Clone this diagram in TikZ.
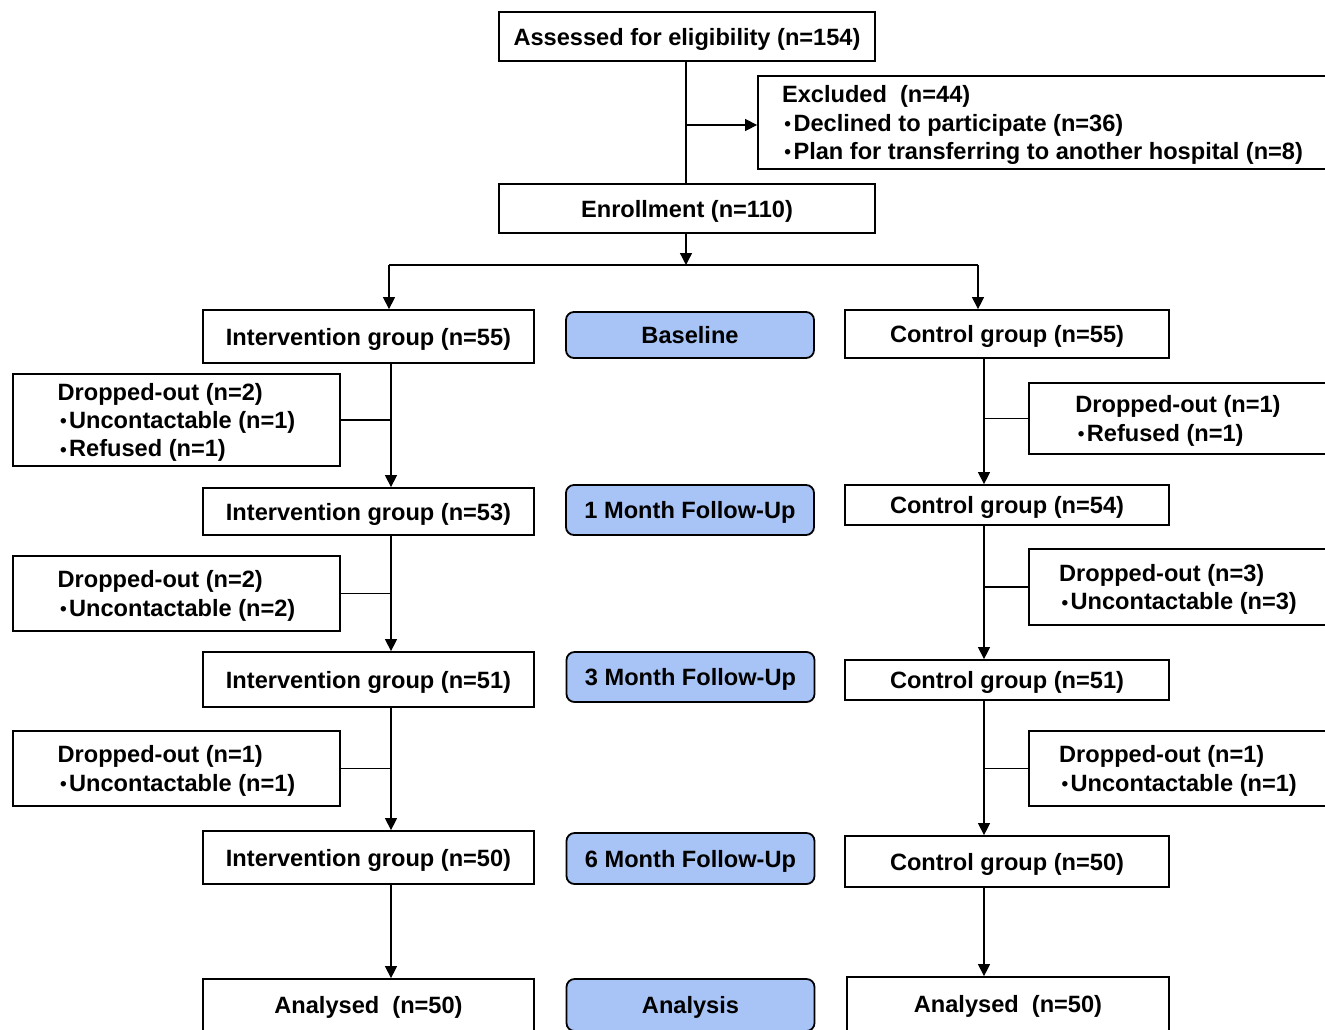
\documentclass[tikz,border=0pt]{standalone}
\usepackage{fontspec}
\setmainfont{Liberation Sans}
\usetikzlibrary{arrows.meta,positioning}
\definecolor{stageblue}{RGB}{168,196,246}
\newcommand{\itm}{\hspace{1.2pt}{\fontsize{9.5}{9.5}\selectfont\raisebox{0.3pt}{•}}\hspace{1.2pt}}
\tikzset{
    %Define standard arrow tip
    >={Triangle[length=6pt,width=6pt]},
    % Define box styles
    box/.style={
           draw,
           line width=0.9pt,
           align=left,
           inner sep=0pt,
           text depth=0pt,
           font=\fontsize{11.8}{14.2}\selectfont\bfseries},
    stage/.style={
           box,
           fill=stageblue,
           rounded corners=4pt},
    % Define connector style
    pil/.style={
           ->,
           line width=0.65pt},
    lin/.style={
           line width=0.65pt}
}

\begin{document}
\begin{tikzpicture}[x=0.5pt,y=-0.5pt]
\useasboundingbox (0,0) rectangle (1325,1029);
\clip (0,0) rectangle (1325,1029);

% top part
\node[box, minimum width=188pt, minimum height=24.5pt] (assess) at (687,36.5) {Assessed for eligibility (n=154)};
\node[box, minimum width=284.5pt, minimum height=46.5pt] (excl) at (1042.5,122.5) {Excluded\ \ (n=44)\\\itm Declined to participate (n=36)\\\itm Plan for transferring to another hospital (n=8)};
\node[box, minimum width=188pt, minimum height=24.5pt] (enroll) at (687,208.5) {Enrollment (n=110)};

\coordinate (split) at (686,125);
\coordinate (fork) at (686,265);
\coordinate (forkL) at (389,265);
\coordinate (forkR) at (978,265);

\draw[lin] (assess.south -| split) -- (enroll.north -| split);
\draw[pil] (split) -- (excl.west |- split);
\draw[pil] (enroll.south -| fork) -- (fork);
\draw[lin] (forkL) -- (forkR);

% stages
\node[stage, minimum width=124pt, minimum height=23pt] (base) at (690,335) {Baseline};
\node[stage, minimum width=124pt, minimum height=25pt] (m1) at (690,510) {1 Month Follow-Up};
\node[stage, minimum width=124pt, minimum height=25pt] (m3) at (690.5,677) {3 Month Follow-Up};
\node[stage, minimum width=124pt, minimum height=25.5pt] (m6) at (690.5,858.5) {6 Month Follow-Up};
\node[stage, minimum width=124pt, minimum height=26pt] (anal) at (690.5,1005) {Analysis};

% intervention arm
\node[box, minimum width=165.5pt, minimum height=26.5pt] (int55) at (368.5,336.5) {Intervention group (n=55)};
\node[box, minimum width=165.5pt, minimum height=23.5pt] (int53) at (368.5,511.5) {Intervention group (n=53)};
\node[box, minimum width=165.5pt, minimum height=27.5pt] (int51) at (368.5,679.5) {Intervention group (n=51)};
\node[box, minimum width=165.5pt, minimum height=26.5pt] (int50) at (368.5,857.5) {Intervention group (n=50)};
\node[box, minimum width=165.5pt, minimum height=26pt] (anL) at (368.5,1005) {Analysed\ \ (n=50)};

\node[box, minimum width=163.5pt, minimum height=46pt] (dropL1) at (176.5,420) {Dropped-out (n=2)\\\itm Uncontactable (n=1)\\\itm Refused (n=1)};
\node[box, minimum width=163.5pt, minimum height=37.5pt] (dropL2) at (176.5,593.5) {Dropped-out (n=2)\\\itm Uncontactable (n=2)};
\node[box, minimum width=163.5pt, minimum height=37.5pt] (dropL3) at (176.5,768.5) {Dropped-out (n=1)\\\itm Uncontactable (n=1)};

% control arm
\node[box, minimum width=162pt, minimum height=24pt] (ctl55) at (1007,334) {Control group (n=55)};
\node[box, minimum width=162pt, minimum height=20pt] (ctl54) at (1007,505) {Control group (n=54)};
\node[box, minimum width=162pt, minimum height=20pt] (ctl51) at (1007,680) {Control group (n=51)};
\node[box, minimum width=162pt, minimum height=25.5pt] (ctl50) at (1007,861.5) {Control group (n=50)};
\node[box, minimum width=161pt, minimum height=27pt] (anR) at (1008,1004) {Analysed\ \ (n=50)};

\node[box, minimum width=149pt, minimum height=35.5pt] (dropR1) at (1178,418.5) {Dropped-out (n=1)\\\itm Refused (n=1)};
\node[box, minimum width=149pt, minimum height=38pt] (dropR2) at (1178,587) {Dropped-out (n=3)\\\itm Uncontactable (n=3)};
\node[box, minimum width=149pt, minimum height=37.5pt] (dropR3) at (1178,768.5) {Dropped-out (n=1)\\\itm Uncontactable (n=1)};

% arms split
\draw[pil] (forkL) -- (int55.north -| forkL);
\draw[pil] (forkR) -- (ctl55.north -| forkR);

% intervention flow
\coordinate (colL) at (391,0);
\draw[pil] (int55.south -| colL) -- (int53.north -| colL);
\draw[pil] (int53.south -| colL) -- (int51.north -| colL);
\draw[pil] (int51.south -| colL) -- (int50.north -| colL);
\draw[pil] (int50.south -| colL) -- (anL.north -| colL);
\draw[line width=0.9pt] (dropL1.east) -- (dropL1.east -| colL);
\draw[line width=0.9pt] (dropL2.east) -- (dropL2.east -| colL);
\draw[line width=0.9pt] (dropL3.east) -- (dropL3.east -| colL);

% control flow
\coordinate (colR) at (984,0);
\draw[pil] (ctl55.south -| colR) -- (ctl54.north -| colR);
\draw[pil] (ctl54.south -| colR) -- (ctl51.north -| colR);
\draw[pil] (ctl51.south -| colR) -- (ctl50.north -| colR);
\draw[pil] (ctl50.south -| colR) -- (anR.north -| colR);
\draw[line width=0.9pt] (dropR1.west) -- (dropR1.west -| colR);
\draw[line width=0.9pt] (dropR2.west) -- (dropR2.west -| colR);
\draw[line width=0.9pt] (dropR3.west) -- (dropR3.west -| colR);
\end{tikzpicture}
\end{document}
